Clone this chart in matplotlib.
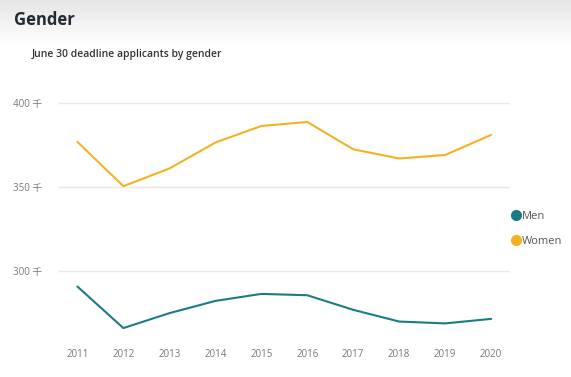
import numpy as np
import matplotlib
matplotlib.use('Agg')
import matplotlib.pyplot as plt
from matplotlib.lines import Line2D

plt.rcParams['font.family'] = ['Open Sans', 'Noto Sans CJK JP', 'DejaVu Sans']

# data (thousands of applicants)
years = [2011, 2012, 2013, 2014, 2015, 2016, 2017, 2018, 2019, 2020]
men = [290.7, 265.9, 274.8, 282.1, 286.3, 285.5, 276.8, 269.8, 268.7, 271.4]
women = [377.0, 350.6, 361.1, 376.6, 386.5, 388.9, 372.6, 367.1, 369.2, 381.2]
yticks = [300, 350, 400]
ytick_labels = ['300 千', '350 千', '400 千']

men_color = '#1B7D84'
women_color = '#F4B223'

fig = plt.figure(figsize=(5.71, 3.77), dpi=100)

# grey header band with gradient
hdr = fig.add_axes([0, 1 - 45 / 377, 1, 45 / 377])
grad = np.linspace(0.90, 1.0, 50).reshape(-1, 1)
hdr.imshow(np.dstack([grad, grad, grad]), aspect='auto', extent=[0, 1, 0, 1])
hdr.axis('off')

fig.text(14 / 571, 1 - 20 / 377, 'Gender', fontsize=12, fontweight='bold',
         color='#252a33', va='center', ha='left')
fig.text(32 / 571, 1 - 55 / 377, 'June 30 deadline applicants by gender', fontsize=7.5,
         fontweight='semibold', color='#333333', va='center', ha='left')

ax = fig.add_axes([59 / 571, 34 / 377, 451 / 571, 243 / 377])
ax.plot(years, women, color=women_color, lw=1.5, solid_capstyle='round')
ax.plot(years, men, color=men_color, lw=1.5, solid_capstyle='round')

ax.set_xlim(2010.6, 2020.41)
ax.set_ylim(257, 402)
ax.set_yticks(yticks)
ax.set_yticklabels(ytick_labels)
ax.set_xticks(years)
ax.set_xticklabels([str(y) for y in years])
ax.tick_params(axis='both', length=0, labelsize=7, labelcolor='#777777')
ax.tick_params(axis='y', pad=12)
ax.tick_params(axis='x', pad=4)
ax.grid(axis='y', color='#e9e9e9', lw=1)
ax.set_axisbelow(True)
for s in ax.spines.values():
    s.set_visible(False)

handles = [Line2D([], [], marker='o', ls='', color=men_color, markersize=7),
           Line2D([], [], marker='o', ls='', color=women_color, markersize=7)]
fig.legend(handles, ['Men', 'Women'], loc='center left',
           bbox_to_anchor=(500 / 571, 1 - 229 / 377), frameon=False, fontsize=8,
           labelcolor='#555555', handletextpad=0.05, labelspacing=1.3,
           handlelength=1.0)

fig.savefig('out.png', dpi=100)
